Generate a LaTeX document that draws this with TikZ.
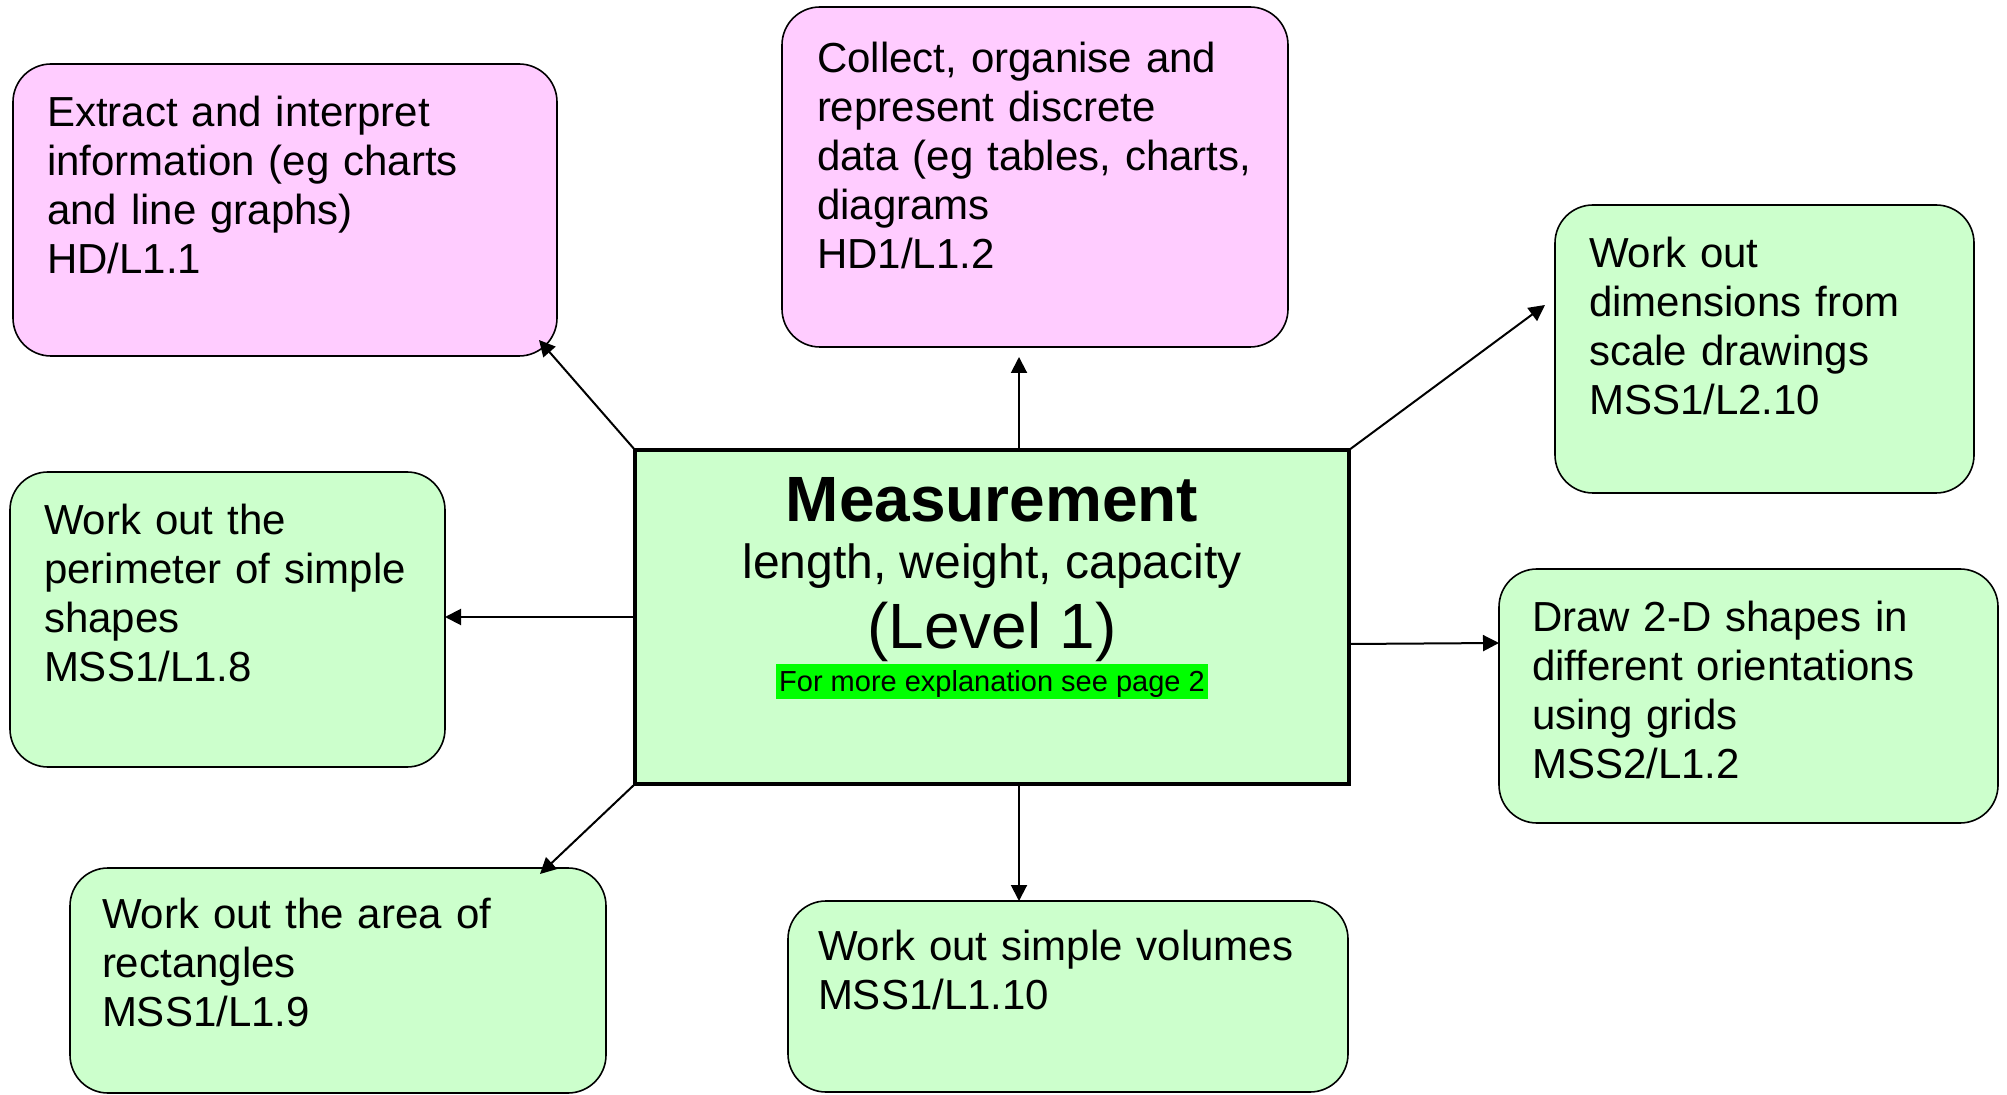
\documentclass[tikz,border=0pt]{standalone}
\usepackage{fontspec}
\setmainfont{Liberation Sans}
\usetikzlibrary{arrows.meta}

\definecolor{goalpink}{HTML}{FFCCFF}
\definecolor{goalgreen}{HTML}{CCFFCC}
\definecolor{notegreen}{HTML}{00FF00}

\begin{document}
\begin{tikzpicture}[>={Triangle[length=8pt,width=8pt]},x=0.5pt,y=-0.5pt]

    \useasboundingbox (0,0) rectangle (2007,1095);

    \tikzstyle{goal}=[rectangle,rounded corners=19pt,draw=black,line width=0.8pt,
        anchor=north west,align=left,outer sep=0pt,
        inner xsep=17pt,inner ysep=8pt,text height=23.5pt,
        font=\fontsize{21}{24.5}\selectfont]
    \tikzstyle{link}=[->,line width=1pt]

    % ============================
    % Centre: topic box
    % ============================

    \node[rectangle,draw=black,line width=2.25pt,fill=goalgreen,
            anchor=north west,outer sep=0pt,
            minimum width=357pt,minimum height=167pt]
            (centre) at (635,450) {};

    \node[anchor=base,font=\fontsize{32}{38}\selectfont\bfseries] (title) at (992,522) {Measurement};
    \node[anchor=base,font=\fontsize{24}{29}\selectfont] (topics) at (992,579) {length, weight, capacity};
    \node[anchor=base,font=\fontsize{32}{38}\selectfont] (level) at (992,649) {(Level 1)};
    \node[anchor=base,fill=notegreen,inner xsep=1.5pt,inner ysep=0pt,
            text height=13.5pt,text depth=4pt,font=\fontsize{14.5}{17}\selectfont]
            (note) at (992,691) {For more explanation see page 2};

    % ============================
    % Pink boxes: handling data
    % ============================

    \node[goal,fill=goalpink,text width=238pt,text depth=106.5pt] (extract) at (13,64)
        {Extract and interpret\\information (eg charts\\and line graphs)\\HD/L1.1};
    \node[goal,fill=goalpink,inner xsep=17.5pt,text width=218pt,
            text height=25pt,text depth=129pt] (collect) at (782,7)
        {Collect, organise and\\represent discrete\\data (eg tables, charts,\\diagrams\\HD1/L1.2};

    % ============================
    % Green boxes: shape and space
    % ============================

    \node[goal,fill=goalgreen,text width=175.5pt,text depth=104.5pt] (scale) at (1555,205)
        {Work out\\dimensions from\\scale drawings\\MSS1/L2.10};
    \node[goal,fill=goalgreen,text width=183.5pt,text depth=108pt] (perimeter) at (10,472)
        {Work out the\\perimeter of simple\\shapes\\MSS1/L1.8};
    \node[goal,fill=goalgreen,inner xsep=16.5pt,text width=216.5pt,text depth=87.5pt] (grids) at (1499,569)
        {Draw 2-D shapes in\\different orientations\\using grids\\MSS2/L1.2};
    \node[goal,fill=goalgreen,inner xsep=16pt,text width=236pt,
            text height=22pt,text depth=74.5pt] (area) at (70,868)
        {Work out the area of\\rectangles\\MSS1/L1.9};
    \node[goal,fill=goalgreen,inner xsep=15pt,text width=250pt,
            text height=21.5pt,text depth=58pt] (volume) at (788,901)
        {Work out simple volumes\\MSS1/L1.10};

    % Arrows out of the centre
    \draw[link] (centre.north west) -- ([shift={(-18,-16)}]extract.south east);
    \draw[link] ([shift={(27,0)}]centre.north) -- ([shift={(-16,10)}]collect.south);
    \draw[link] (centre.north east) -- ([shift={(-10,-44)}]scale.west);
    \draw[link] (centre.west) -- (centre.west -| perimeter.east);
    \draw[link] ([shift={(0,27)}]centre.east) -- ([shift={(0,-53)}]grids.west);
    \draw[link] (centre.south west) -- ([shift={(-66,6)}]area.north east);
    \draw[link] ([shift={(27,0)}]centre.south) -- ([shift={(-49,0)}]volume.north);

\end{tikzpicture}
\end{document}
